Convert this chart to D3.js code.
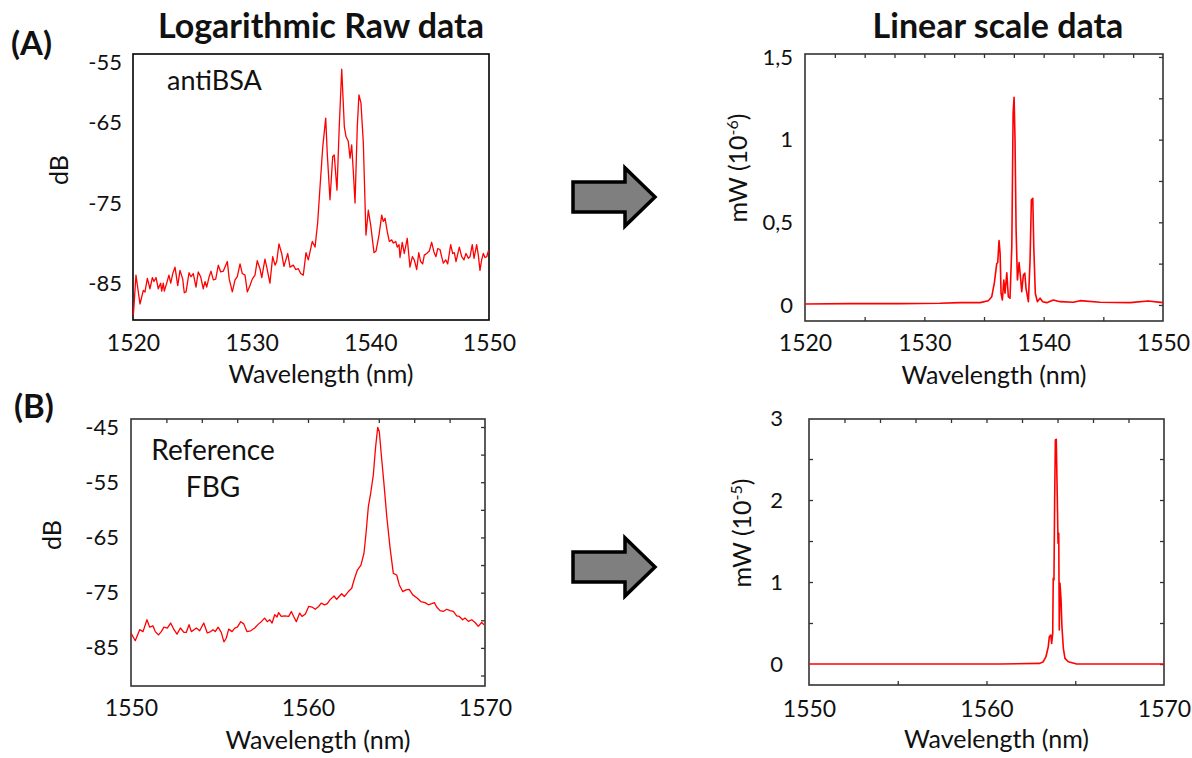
<!DOCTYPE html>
<html>
<head>
<meta charset="utf-8">
<script src="https://cdn.jsdelivr.net/npm/d3@7"></script>
<style>
    body { margin: 0; background: #fff; }
    svg text { font-family: Lato, "Open Sans", sans-serif; fill: #111; }
</style>
</head>
<body>
<svg id="fig" width="1192" height="758"></svg>
<script>
// ---- (A) antiBSA, logarithmic raw spectrum (dB) ----
var aLogWl = [1520.03,1520.25,1520.59,1520.87,1521.01,1521.21,1521.43,1521.63,1521.77,1521.94,
    1522.13,1522.33,1522.42,1522.55,1522.64,1522.84,1523.03,1523.18,1523.35,1523.54,
    1523.77,1523.96,1524.19,1524.32,1524.47,1524.72,1524.89,1525.08,1525.31,1525.50,
    1525.70,1525.92,1526.07,1526.21,1526.40,1526.57,1526.77,1526.97,1527.19,1527.39,
    1527.61,1527.75,1527.95,1528.11,1528.37,1528.60,1528.79,1529.02,1529.21,1529.44,
    1529.63,1529.86,1530.05,1530.28,1530.47,1530.70,1530.85,1531.12,1531.27,1531.54,
    1531.77,1531.97,1532.11,1532.30,1532.53,1532.72,1533.04,1533.23,1533.51,1533.71,
    1533.93,1534.13,1534.35,
    1534.58,1534.77,1535.11,1535.34,1535.56,1535.76,1535.99,1536.24,1536.37,1536.60,
    1536.83,1536.96,1537.19,1537.38,1537.59,1537.81,1537.95,1538.14,1538.29,1538.43,
    1538.56,1538.71,1538.90,1539.04,1539.21,1539.41,1539.63,1539.83,1540.03,1540.31,
    1540.48,1540.73,1540.96,1541.09,1541.24,1541.43,1541.60,1541.80,1541.94,1542.14,
    1542.27,1542.42,1542.50,1542.69,1542.86,1543.11,1543.34,1543.54,1543.70,1543.91,
    1544.08,1544.24,1544.41,1544.55,1544.75,1544.97,1545.17,1545.36,1545.53,1545.68,
    1545.87,1546.01,1546.15,1546.35,1546.52,1546.77,1546.94,1547.08,1547.22,1547.50,
    1547.70,1547.89,1548.06,1548.26,1548.40,1548.59,1548.74,1548.96,1549.10,1549.24,
    1549.38,1549.52,1549.66,1549.81,1549.97];
var aLogDb = [-89,-84,-87.6,-85.9,-86.1,-84.4,-85.7,-84.3,-84.8,-84.3,
    -85.7,-85,-86,-85,-86,-85,-84,-85,-83.8,-83,
    -85.3,-83.4,-84.5,-86.2,-86.1,-83.7,-84.2,-83.8,-85.5,-83.6,
    -84.2,-85.7,-84.8,-85.5,-84.3,-83.5,-84.6,-84.5,-82.75,-83.6,
    -83.5,-83,-82.3,-84.5,-86.1,-84.6,-84.2,-82.6,-83.8,-84,
    -86.1,-85.3,-84.5,-84,-82.2,-83.2,-84.3,-82,-83,-85,
    -81.7,-82.75,-82.3,-80.1,-81.3,-82.9,-81.3,-83,-82.75,-83.3,
    -83.2,-83.8,-84,
    -81.2,-82.1,-79.8,-80.5,-77.5,-73,-68,-64.4,-68.8,-74.6,
    -69.2,-69,-73.4,-65.5,-58.3,-65.5,-66.7,-67.3,-69.4,-67.75,
    -70.9,-75,-65.5,-61.5,-62.5,-67.5,-79,-75.9,-77.75,-81.2,
    -81,-79,-76.5,-77.3,-76.9,-78.6,-79.8,-79.6,-80,-79.8,
    -80.5,-80.2,-81.8,-79.9,-81.3,-79.4,-83,-81.7,-82.1,-83.3,
    -81.2,-82.3,-82.6,-81.5,-81.3,-81,-79.9,-81.1,-81.7,-80.7,
    -80.8,-81.7,-82.5,-82.1,-82.6,-80.2,-81.3,-81.2,-82.3,-80.5,
    -81.7,-82.1,-81.3,-81.9,-81.7,-80.2,-81.9,-80.2,-81.5,-83.4,
    -82.1,-81.3,-81.8,-81.7,-80.9];

// ---- (A) antiBSA, linear spectrum (mW x 1e-6) ----
var aLinWl = [1520.00,1523.77,1527.96,1531.32,1532.99,1534.67,1535.36,1535.65,1535.87,1536.07,
    1536.15,1536.26,1536.35,1536.43,1536.54,1536.66,1536.76,1536.91,1537.04,1537.18,
    1537.33,1537.44,1537.52,1537.60,1537.69,1537.80,1537.94,1538.08,1538.16,1538.30,
    1538.42,1538.52,1538.72,1538.86,1538.97,1539.09,1539.17,1539.30,1539.47,1539.70,
    1539.92,1540.26,1540.81,1541.37,1542.49,1543.05,1544.73,1547.24,1548.75,1550.00];
var aLinMw = [0.006,0.008,0.008,0.010,0.014,0.014,0.026,0.050,0.135,0.252,
    0.256,0.389,0.313,0.071,0.030,0.151,0.071,0.195,0.050,0.041,
    0.353,1.160,1.256,0.998,0.454,0.151,0.256,0.151,0.080,0.181,
    0.192,0.101,0.020,0.272,0.635,0.645,0.353,0.071,0.020,0.041,
    0.020,0.014,0.030,0.020,0.016,0.026,0.016,0.014,0.024,0.014];

// ---- (B) reference FBG, logarithmic raw spectrum (dB) ----
var bLogWl = [1550.00,1550.24,1550.49,1550.68,1550.90,1551.06,1551.24,1551.37,1551.56,1551.71,
    1551.86,1552.05,1552.24,1552.43,1552.60,1552.79,1552.99,1553.12,1553.28,1553.41,
    1553.56,1553.69,1553.88,1554.11,1554.31,1554.50,1554.63,1554.76,1554.92,1555.10,
    1555.25,1555.38,1555.52,1555.71,1555.86,1556.01,1556.20,1556.37,1556.55,1556.76,
    1556.99,1557.21,1557.36,1557.55,1557.70,1557.84,1557.97,1558.12,1558.25,1558.34,
    1558.49,1558.68,1558.91,1559.06,1559.19,1559.34,1559.53,1559.66,1559.85,1560.04,
    1560.23,1560.41,1560.60,1560.75,1560.94,1561.09,1561.24,1561.47,1561.62,1561.90,
    1562.05,1562.28,1562.47,1562.60,1562.79,1562.99,1563.16,1563.28,1563.41,1563.54,
    1563.69,1563.82,1563.94,1564.03,1564.16,1564.29,1564.45,1564.63,1564.82,1565.01,
    1565.16,1565.35,1565.54,1565.72,1565.92,1566.18,1566.37,1566.61,1566.80,1566.99,
    1567.14,1567.27,1567.46,1567.64,1567.84,1568.02,1568.21,1568.40,1568.55,1568.74,
    1568.87,1569.06,1569.25,1569.44,1569.62,1569.81,1569.94];
var bLogDb = [-82.3,-83.7,-81.7,-82.05,-79.9,-81.25,-81.0,-82.05,-82.65,-82.05,
    -81.25,-81.4,-80.5,-81.7,-82.5,-81.4,-82.2,-82.2,-80.8,-82.05,
    -81.7,-81.4,-81.9,-80.5,-82.3,-82.05,-81.7,-82.05,-81.25,-82.2,
    -83.9,-83.25,-81.6,-82.05,-81.4,-81.25,-80.25,-80.65,-82.05,-81.9,
    -81.4,-80.65,-80.25,-79.6,-80.25,-79.9,-80.5,-79.0,-79.4,-78.6,
    -79.3,-79.2,-79.3,-78.4,-79.3,-80.25,-78.7,-79.3,-78.85,-77.5,
    -77.6,-78.0,-77.5,-76.9,-77.2,-77.0,-76.3,-75.6,-76.2,-75.2,
    -75.7,-74.8,-74.2,-72.7,-70.9,-70.0,-67.9,-64.2,-59.4,-57.0,
    -53.7,-48.6,-45.05,-45.85,-50.7,-55.2,-61.2,-66.7,-71.5,-71.8,
    -73.6,-74.8,-74.5,-74.4,-75.4,-76.0,-76.6,-76.8,-77.2,-77.0,
    -76.8,-77.6,-78.25,-78.4,-78.0,-78.25,-78.4,-79.2,-79.3,-79.9,
    -79.6,-80.2,-79.9,-80.4,-81.1,-80.4,-80.8];

// ---- (B) reference FBG, linear spectrum (mW x 1e-5) ----
var bLinWl = [1550.00,1555.13,1560.76,1563.01,1563.20,1563.35,1563.48,1563.54,1563.62,1563.67,
    1563.73,1563.76,1563.80,1563.84,1563.88,1563.93,1563.99,1564.03,1564.07,1564.10,
    1564.14,1564.20,1564.25,1564.33,1564.42,1564.61,1565.08,1566.39,1570.00];
var bLinMw = [0,0,0,0.008,0.028,0.089,0.211,0.333,0.354,0.252,
    0.374,1.045,1.024,2.000,2.732,2.740,2.000,1.472,1.594,0.415,
    0.984,0.780,0.455,0.191,0.069,0.028,0,0,0];

// tick labels (the "-55" label of panel A sits a little low in the original)
var aXTicks = [1520, 1530, 1540, 1550];
var bXTicks = [1550, 1560, 1570];
var aLogTickAt = [-57.4, -65, -75, -85];
var aLogTickLabels = ["-55", "-65", "-75", "-85"];
var bLogTicks = [-45, -55, -65, -75, -85];
var aLinTicks = [0, 0.5, 1, 1.5];
var aLinTickLabels = ["0", "0,5", "1", "1,5"];
var bLinTicks = [0, 1, 2, 3];

var svg = d3.select("#fig");

function noDomain(g) { g.select(".domain").remove(); }

function spectrum(p) {
    var x = d3.scaleLinear().domain(p.xDomain).range([p.left, p.right]);
    var y = d3.scaleLinear().domain(p.yDomain).range([p.bottom, p.top]);
    var g = svg.append("g").attr("class", "panel");

    // small inner tick marks on the frame
    var marks = [
        [p.topMarks, d3.axisBottom(x), "translate(0," + p.top + ")"],
        [p.bottomMarks, d3.axisTop(x), "translate(0," + p.bottom + ")"],
        [p.rightMarks, d3.axisLeft(y), "translate(" + p.right + ",0)"],
        [p.leftMarks, d3.axisRight(y), "translate(" + p.left + ",0)"]
    ];
    marks.forEach(function(m) {
        if (!m[0]) return;
        g.append("g")
            .attr("transform", m[2])
            .call(m[1].tickValues(m[0]).tickSize(4).tickFormat(""))
            .call(noDomain)
            .selectAll("line").attr("stroke", "#333").attr("stroke-width", 1.3);
    });

    g.append("rect")
        .attr("x", p.left).attr("y", p.top)
        .attr("width", p.right - p.left)
        .attr("height", p.bottom - p.top)
        .attr("fill", "none")
        .attr("stroke", p.frame)
        .attr("stroke-width", 1.6);

    var line = d3.line()
        .x(function(d) { return x(d[0]); })
        .y(function(d) { return y(d[1]); });

    g.append("path")
        .datum(d3.zip(p.wl, p.val))
        .attr("d", line)
        .attr("fill", "none")
        .attr("stroke", "#ff0000")
        .attr("stroke-width", p.lineWidth)
        .attr("stroke-linejoin", "round");

    // tick labels (font set after the axis call, which resets it)
    g.append("g")
        .attr("transform", "translate(" + p.left + ",0)")
        .call(d3.axisLeft(y).tickValues(p.yTickAt).tickSize(0).tickPadding(p.yPad)
            .tickFormat(function(d, i) { return p.yTickLabels[i]; }))
        .call(noDomain)
        .attr("font-family", "Lato")
        .attr("font-size", 22);

    g.append("g")
        .attr("transform", "translate(0," + p.bottom + ")")
        .call(d3.axisBottom(x).tickValues(p.xTicks).tickSize(0).tickPadding(p.xPad)
            .tickFormat(d3.format("d")))
        .call(noDomain)
        .attr("font-family", "Lato")
        .attr("font-size", 23);

    // axis titles
    g.append("text")
        .attr("x", (p.left + p.right) / 2 + 10)
        .attr("y", p.bottom + 63)
        .attr("text-anchor", "middle")
        .attr("font-size", 25)
        .text("Wavelength (nm)");

    var yt = g.append("text")
        .attr("transform", "translate(" + p.yTitleX + "," + p.yTitleY + ") rotate(-90)")
        .attr("text-anchor", "middle")
        .attr("font-size", 25);
    yt.append("tspan").text(p.yTitle);
    if (p.yExp) {
        yt.append("tspan").attr("baseline-shift", "super").attr("font-size", 16).text(p.yExp);
        yt.append("tspan").text(")");
    }
    return g;
}

spectrum({xDomain: [1520, 1550], yDomain: [-89.6, -56.4],
    left: 133, right: 489, top: 54, bottom: 320, frame: "#000",
    wl: aLogWl, val: aLogDb, lineWidth: 1.3,
    yTickAt: aLogTickAt, yTickLabels: aLogTickLabels, yPad: 11,
    xTicks: aXTicks, xPad: 15,
    yTitle: "dB", yTitleX: 68, yTitleY: 170});

spectrum({xDomain: [1520, 1550], yDomain: [-0.097, 1.518],
    left: 805, right: 1163, top: 54, bottom: 321, frame: "#333",
    wl: aLinWl, val: aLinMw, lineWidth: 1.6,
    topMarks: d3.range(1522.5, 1550, 2.5), bottomMarks: [1525, 1530, 1535, 1540, 1545],
    rightMarks: [0, 0.25, 0.5, 0.75, 1, 1.25, 1.5],
    yTickAt: aLinTicks, yTickLabels: aLinTickLabels, yPad: 12,
    xTicks: aXTicks, xPad: 14,
    yTitle: "mW (10", yExp: "-6", yTitleX: 747, yTitleY: 168});

spectrum({xDomain: [1550, 1570], yDomain: [-91.9, -43.55],
    left: 131, right: 485, top: 419, bottom: 686, frame: "#333",
    wl: bLogWl, val: bLogDb, lineWidth: 1.3,
    topMarks: d3.range(1552, 1570, 2), rightMarks: [-45, -50, -55, -60, -65, -70, -75, -80, -85, -90],
    yTickAt: bLogTicks, yTickLabels: bLogTicks.map(String), yPad: 12,
    xTicks: bXTicks, xPad: 14,
    yTitle: "dB", yTitleX: 61, yTitleY: 535});

spectrum({xDomain: [1550, 1570], yDomain: [-0.256, 2.988],
    left: 809, right: 1164, top: 419, bottom: 685, frame: "#333",
    wl: bLinWl, val: bLinMw, lineWidth: 1.6,
    topMarks: d3.range(1552, 1570, 2), bottomMarks: [1555, 1560, 1565],
    rightMarks: [0, 0.5, 1, 1.5, 2, 2.5], leftMarks: [0.5, 1, 1.5, 2, 2.5],
    yTickAt: bLinTicks, yTickLabels: bLinTicks.map(String), yPad: 26,
    xTicks: bXTicks, xPad: 16,
    yTitle: "mW (10", yExp: "-5", yTitleX: 751, yTitleY: 533});

// in-plot labels
svg.append("text").attr("x", 167).attr("y", 90).attr("font-size", 27).text("antiBSA");
svg.append("text").attr("x", 213).attr("y", 460).attr("font-size", 28)
    .attr("text-anchor", "middle").text("Reference");
svg.append("text").attr("x", 213).attr("y", 497).attr("font-size", 28)
    .attr("text-anchor", "middle").text("FBG");

// headings and panel letters
svg.append("text").attr("x", 321).attr("y", 38).attr("text-anchor", "middle")
    .attr("font-size", 34).attr("font-weight", "bold").text("Logarithmic Raw data");
svg.append("text").attr("x", 998).attr("y", 38).attr("text-anchor", "middle")
    .attr("font-size", 34).attr("font-weight", "bold").text("Linear scale data");
svg.append("text").attr("x", 11).attr("y", 55)
    .attr("font-size", 33).attr("font-weight", "bold").text("(A)");
svg.append("text").attr("x", 14).attr("y", 418)
    .attr("font-size", 33).attr("font-weight", "bold").text("(B)");

// grey block arrows between the columns
function arrow(cy) {
    var pts = [[573, cy - 15], [625, cy - 15], [625, cy - 29], [655, cy],
        [625, cy + 29], [625, cy + 15], [573, cy + 15]];
    svg.append("polygon")
        .attr("points", pts.map(function(d) { return d.join(","); }).join(" "))
        .attr("fill", "#7f7f7f")
        .attr("stroke", "#000")
        .attr("stroke-width", 3.5)
        .attr("stroke-linejoin", "miter");
}
arrow(197);
arrow(567);
</script>
</body>
</html>
